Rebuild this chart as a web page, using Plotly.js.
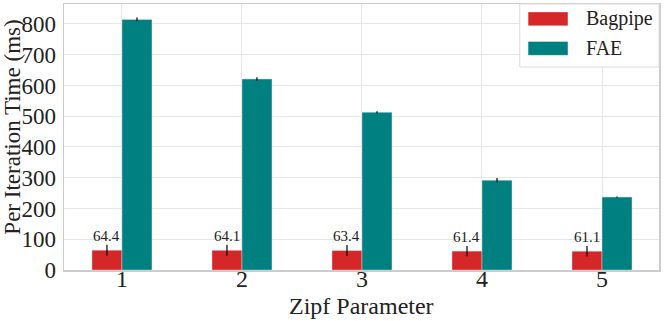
<!DOCTYPE html>
<html>
<head>
<meta charset="utf-8">
<script src="https://cdn.plot.ly/plotly-3.0.1.min.js"></script>
<style>
  html, body { margin: 0; padding: 0; background: #fff; }
  #chart { width: 664px; height: 321px; }
</style>
</head>
<body>
<div id="chart"></div>
<script>
const zipf = [1, 2, 3, 4, 5];
const bagpipe = [64.4, 64.1, 63.4, 61.4, 61.1];
const bagpipeErr = [18, 18, 18, 17, 17];
const fae = [815, 621, 513, 292, 237];
const faeErr = [6, 6, 3, 7, 2];
const seriesNames = ['Bagpipe', 'FAE'];
const seriesColors = ['#d62728', '#008080'];

const serif = 'Liberation Serif';
const off = 0.125;

const traces = [
  {
    name: seriesNames[0], type: 'bar', x: zipf, y: bagpipe,
    marker: { color: seriesColors[0], line: { color: 'rgba(255,255,255,0.35)', width: 1 } },
    error_y: { type: 'data', array: bagpipeErr, color: '#111', thickness: 1.3, width: 0 }
  },
  {
    name: seriesNames[1], type: 'bar', x: zipf, y: fae,
    marker: { color: seriesColors[1], line: { color: 'rgba(255,255,255,0.35)', width: 1 } },
    error_y: { type: 'data', array: faeErr, color: '#111', thickness: 1.3, width: 0 }
  }
];

const labels = zipf.map((z, i) => ({
  x: z - off, y: bagpipe[i] + bagpipeErr[i], xref: 'x', yref: 'y',
  text: bagpipe[i].toFixed(1), showarrow: false, yanchor: 'bottom', yshift: -1,
  font: { family: serif, size: 15, color: '#222' }
}));

// axis titles placed as annotations to sit where the reference has them
const titles = [
  { xref: 'paper', yref: 'paper', x: 0.5, y: -0.135, xanchor: 'center', yanchor: 'middle',
    text: 'Zipf Parameter', showarrow: false, font: { family: serif, size: 24, color: '#222' } },
  { xref: 'paper', yref: 'paper', x: -0.087, y: 0.536, xanchor: 'center', yanchor: 'middle',
    textangle: -90, text: 'Per Iteration Time (ms)', showarrow: false,
    font: { family: serif, size: 23, color: '#222' } }
];

// legend drawn by hand so the swatches can be wide rectangles
const legShapes = [
  { type: 'rect', xref: 'paper', yref: 'paper', x0: 0.766, x1: 1.0, y0: 0.763, y1: 1.0,
    fillcolor: '#fff', line: { color: '#dcdcdc', width: 1 }, layer: 'above' }
];
const legText = [];
const rowY = [0.944, 0.833];
seriesNames.forEach((n, i) => {
  legShapes.push({ type: 'rect', xref: 'paper', yref: 'paper', x0: 0.780, x1: 0.847,
    y0: rowY[i] - 0.026, y1: rowY[i] + 0.026, fillcolor: seriesColors[i],
    line: { color: 'rgba(255,255,255,0.35)', width: 1 }, layer: 'above' });
  legText.push({ xref: 'paper', yref: 'paper', x: 0.874, y: rowY[i], xanchor: 'left',
    yanchor: 'middle', text: n, showarrow: false,
    font: { family: serif, size: 20, color: '#222' } });
});

const layout = {
  width: 664, height: 321,
  margin: { l: 64, r: 5, t: 4, b: 51 },
  paper_bgcolor: '#fff', plot_bgcolor: '#fff',
  barmode: 'group', bargap: 0.5, bargroupgap: 0,
  font: { family: serif, color: '#222' },
  showlegend: false,
  xaxis: {
    range: [0.517, 5.475], tickvals: zipf, ticktext: zipf.map(String),
    tickfont: { family: serif, size: 24, color: '#222' },
    showgrid: true, gridcolor: '#e6e6e6', gridwidth: 1,
    showline: true, linecolor: '#ccc', linewidth: 1.5, mirror: true,
    ticks: '', zeroline: false, automargin: false, ticklabelstandoff: -13
  },
  yaxis: {
    range: [0, 865], dtick: 100,
    tickfont: { family: serif, size: 23, color: '#222' },
    showgrid: true, gridcolor: '#e6e6e6', gridwidth: 1,
    showline: true, linecolor: '#ccc', linewidth: 1.5, mirror: true,
    ticks: '', zeroline: false, ticklabelstandoff: 2, automargin: false
  },
  shapes: legShapes,
  annotations: labels.concat(titles, legText)
};

Plotly.newPlot('chart', traces, layout, { displayModeBar: false, staticPlot: true });
</script>
</body>
</html>
